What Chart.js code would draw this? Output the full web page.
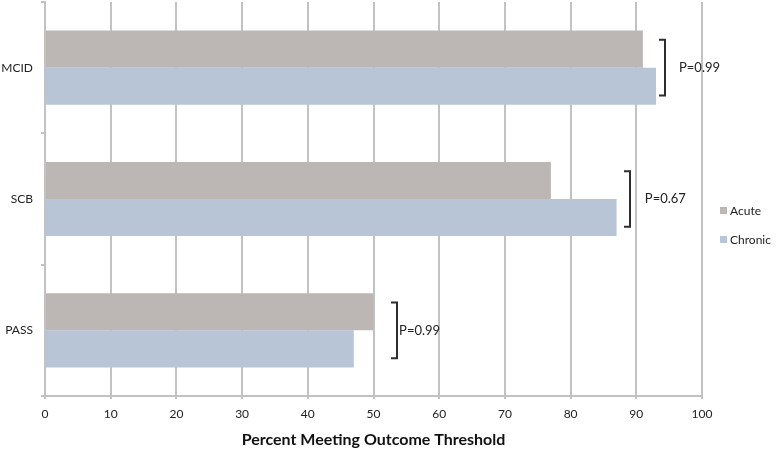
<!DOCTYPE html>
<html>
<head>
<meta charset="utf-8">
<script src="https://cdn.jsdelivr.net/npm/chart.js@4.4.1/dist/chart.umd.min.js"></script>
<style>
  html, body { margin: 0; padding: 0; background: #fff; }
  #wrap { width: 777px; height: 450px; position: relative; }
</style>
</head>
<body>
<div id="wrap"><canvas id="c" width="777" height="450"></canvas></div>
<script>
// ---- data ----
const categories = ["MCID", "SCB", "PASS"];
const acuteValues = [91, 77, 50];
const chronicValues = [93, 87, 47];
const seriesNames = ["Acute", "Chronic"];
const pValueLabels = ["P=0.99", "P=0.67", "P=0.99"];
// where each comparison bracket and its p-value label sit, in axis units
const bracketAt = [94.4, 89.0, 53.6];
const pLabelAt = [96.5, 91.3, 53.9];
const xTicks = [0, 10, 20, 30, 40, 50, 60, 70, 80, 90, 100];
const xTitle = "Percent Meeting Outcome Threshold";

const FONT = "Lato, 'Open Sans', sans-serif";
const colors = ["#bcb7b5", "#b8c5d6"];
const gridColor = "#c2c2c2";

const annotations = {
  id: "annotations",
  afterDatasetsDraw(chart) {
    const ctx = chart.ctx;
    const xs = chart.scales.x;
    const m0 = chart.getDatasetMeta(0);
    const m1 = chart.getDatasetMeta(1);
    ctx.save();
    for (let i = 0; i < categories.length; i++) {
      const b0 = m0.data[i], b1 = m1.data[i];
      const top = b0.y - b0.height / 2;
      const bot = b1.y + b1.height / 2;
      const inset = (bot - top) * 0.125;
      const y1 = top + inset, y2 = bot - inset;
      const bx = Math.round(xs.getPixelForValue(bracketAt[i]));
      ctx.strokeStyle = "#2e2e2e";
      ctx.lineWidth = 2;
      ctx.beginPath();
      ctx.moveTo(bx - 6, y1);
      ctx.lineTo(bx, y1);
      ctx.lineTo(bx, y2);
      ctx.lineTo(bx - 6, y2);
      ctx.stroke();
      ctx.fillStyle = "#222";
      ctx.font = "13px " + FONT;
      ctx.textAlign = "left";
      ctx.textBaseline = "middle";
      ctx.fillText(pValueLabels[i], xs.getPixelForValue(pLabelAt[i]), (y1 + y2) / 2);
    }
    // legend
    const lx = 720;
    const ly = [211, 240];
    ctx.font = "12px " + FONT;
    for (let k = 0; k < seriesNames.length; k++) {
      ctx.fillStyle = chart.data.datasets[k].backgroundColor;
      ctx.fillRect(lx, ly[k] - 4, 7, 7);
      ctx.fillStyle = "#222";
      ctx.fillText(chart.data.datasets[k].label, lx + 10, ly[k]);
    }
    ctx.restore();
  }
};

new Chart(document.getElementById("c"), {
  type: "bar",
  data: {
    labels: categories,
    datasets: [
      { label: seriesNames[0], data: acuteValues, backgroundColor: colors[0] },
      { label: seriesNames[1], data: chronicValues, backgroundColor: colors[1] }
    ]
  },
  options: {
    indexAxis: "y",
    responsive: false,
    animation: false,
    categoryPercentage: 0.565,
    barPercentage: 1.0,
    layout: { padding: { top: 2, right: 75, left: 0, bottom: 0 } },
    plugins: { legend: { display: false }, tooltip: { enabled: false } },
    scales: {
      x: {
        min: 0, max: 100,
        afterFit(s) { s.height = 54; },
        afterBuildTicks(s) { s.ticks = xTicks.map(v => ({ value: v })); },
        grid: { color: gridColor, lineWidth: 2, tickLength: 3, drawTicks: true },
        border: { color: gridColor, width: 2 },
        ticks: { font: { family: FONT, size: 12 }, color: "#222", padding: 8, maxRotation: 0 },
        title: { display: true, text: xTitle, font: { family: FONT, size: 16, weight: "bold" }, color: "#111", padding: { top: 0, bottom: 1 } }
      },
      y: {
        afterFit(s) { s.width = 45; s.paddingTop = 0; s.paddingBottom = 0; },
        grid: { offset: true, drawOnChartArea: false, drawTicks: true, tickLength: 4, color: gridColor, lineWidth: 2 },
        border: { color: gridColor, width: 2 },
        ticks: { font: { family: FONT, size: 12 }, color: "#222", padding: 8 }
      }
    }
  },
  plugins: [annotations]
});
</script>
</body>
</html>
